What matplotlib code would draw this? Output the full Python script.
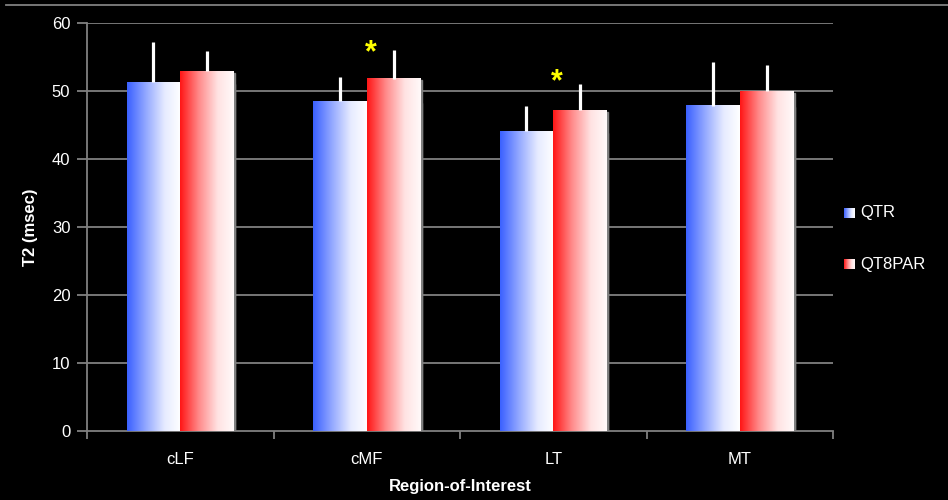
import numpy as np
import matplotlib
matplotlib.use("Agg")
import matplotlib.pyplot as plt
from matplotlib.colors import LinearSegmentedColormap
from matplotlib.lines import Line2D
from matplotlib.patches import Rectangle
import matplotlib.transforms as mtransforms

plt.rcParams['font.family'] = ['Liberation Sans', 'DejaVu Sans']

regions = ["cLF", "cMF", "LT", "MT"]
series_names = ["QTR", "QT8PAR"]
qtr_mean = [51.3, 48.5, 44.1, 47.8]
qtr_err = [5.9, 3.6, 3.7, 6.5]
qt8par_mean = [52.9, 51.8, 47.2, 50.0]
qt8par_err = [3.0, 4.2, 3.8, 3.8]
# regions with a significant difference, with the height of the asterisk
significant = {"cMF": 55.6, "LT": 51.3}
yticks = [0, 10, 20, 30, 40, 50, 60]

blue_cmap = LinearSegmentedColormap.from_list(
    "blue_fade", [(0.0, "#3a60ff"), (0.35, "#93a8ff"), (0.7, "#e6ebff"), (1.0, "#ffffff")])
red_cmap = LinearSegmentedColormap.from_list(
    "red_fade", [(0.0, "#ff1515"), (0.35, "#ff8a8a"), (0.7, "#ffe2e2"), (1.0, "#fffafa")])
grad = np.linspace(0, 1, 256).reshape(1, -1)

W, H = 948, 500
fig = plt.figure(figsize=(W / 100, H / 100), dpi=100, facecolor="black")
ax = fig.add_axes([87 / W, 69 / H, (833 - 87) / W, (431 - 23) / H], facecolor="black")

grid_col = "#808080"
bar_w = 0.287
centers = np.arange(len(regions)) + 0.5

# horizontal gridlines
for v in yticks[1:]:
    ax.axhline(v, color=grid_col, lw=1.3, zorder=1)

shadow = mtransforms.offset_copy(ax.transData, fig=fig, x=1.5, y=-1.5, units="dots")

for c, m1, m2 in zip(centers, qtr_mean, qt8par_mean):
    # drop shadow behind the pair
    ax.add_patch(Rectangle((c - bar_w, 0), 2 * bar_w, m1, color=grid_col,
                           transform=shadow, zorder=2))
    ax.add_patch(Rectangle((c, 0), bar_w, m2, color=grid_col,
                           transform=shadow, zorder=2))
    ax.imshow(grad, cmap=blue_cmap, extent=(c - bar_w, c, 0, m1),
              aspect="auto", interpolation="bicubic", zorder=3)
    ax.imshow(grad, cmap=red_cmap, extent=(c, c + bar_w, 0, m2),
              aspect="auto", interpolation="bicubic", zorder=3)

ax.errorbar(centers - bar_w / 2, qtr_mean, yerr=[np.zeros(4), qtr_err],
            fmt="none", ecolor="white", elinewidth=2.3, capsize=0, zorder=4)
ax.errorbar(centers + bar_w / 2, qt8par_mean, yerr=[np.zeros(4), qt8par_err],
            fmt="none", ecolor="white", elinewidth=2.3, capsize=0, zorder=4)

for name, yv in significant.items():
    c = centers[regions.index(name)]
    ax.text(c + 0.02, yv, "*", color="#ffff00", fontsize=22, fontweight="bold",
            ha="center", va="center", zorder=5)

ax.set_xlim(0, len(regions))
ax.set_ylim(0, 60)
ax.set_yticks(yticks)
ax.set_yticklabels([str(v) for v in yticks])
ax.set_xticks(centers)
ax.set_xticklabels(regions)
ax.set_xticks(np.arange(len(regions) + 1), minor=True)
ax.tick_params(axis="x", which="major", length=0, pad=15, colors="white", labelsize=12)
ax.tick_params(axis="x", which="minor", length=6, width=1.3, color=grid_col, direction="out")
ax.tick_params(axis="y", length=7, width=1.3, color=grid_col, colors="white",
               labelsize=12, pad=5, direction="out")
for lab in ax.get_yticklabels() + ax.get_xticklabels():
    lab.set_color("white")

for side in ["top", "right"]:
    ax.spines[side].set_visible(False)
for side in ["left", "bottom"]:
    ax.spines[side].set_color(grid_col)
    ax.spines[side].set_linewidth(1.3)

# axis titles
fig.text(30 / W, 1 - 227 / H, "T2 (msec)", color="white", fontsize=12, fontweight="bold",
         rotation=90, ha="center", va="center")
fig.text(460 / W, 1 - 487 / H, "Region-of-Interest", color="white", fontsize=12,
         fontweight="bold", ha="center", va="center")

# top border line
fig.add_artist(Line2D([6 / W, 1.0], [1 - 5 / H, 1 - 5 / H], color=grid_col, lw=1.3))

# legend with gradient swatches
for name, cmap, ymid in [(series_names[0], blue_cmap, 213), (series_names[1], red_cmap, 264)]:
    sw = fig.add_axes([844 / W, 1 - (ymid + 5.5) / H, 11 / W, 11 / H])
    sw.imshow(grad, cmap=cmap, aspect="auto", interpolation="bicubic")
    sw.axis("off")
    fig.text(860 / W, 1 - ymid / H, name, color="white", fontsize=12,
             ha="left", va="center")

fig.savefig("out.png", dpi=100, facecolor="black")
